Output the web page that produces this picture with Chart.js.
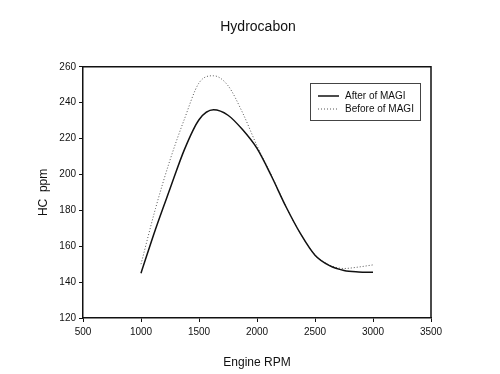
<!DOCTYPE html>
<html>
<head>
<meta charset="utf-8">
<script src="https://cdn.jsdelivr.net/npm/chart.js@4/dist/chart.umd.min.js"></script>
<style>
  html, body { margin: 0; padding: 0; background: #ffffff; }
  #wrap { width: 500px; height: 374px; position: relative; }
</style>
</head>
<body>
<div id="wrap"><canvas id="c" width="500" height="374"></canvas></div>
<script>
const chartTitle = "Hydrocabon";
const xTitle = "Engine RPM";
const yTitle = "HC  ppm";
const seriesNames = ["After of MAGI", "Before of MAGI"];
const rpm = [1000, 1125, 1250, 1375, 1500, 1625, 1750, 1875, 2000, 2125, 2250, 2375, 2500, 2625, 2750, 2875, 3000];
const afterMagi = [145, 169.5, 192, 214, 230.5, 236, 233, 225, 214.5, 199, 182, 167, 155, 149.2, 146.5, 145.7, 145.5];
const beforeMagi = [150, 181, 208, 231, 251, 255, 249.5, 234.5, 216, 199.5, 182, 167, 155.2, 149.5, 147.6, 148.4, 149.6];
const xTicks = [500, 1000, 1500, 2000, 2500, 3000, 3500];
const yTicks = [120, 140, 160, 180, 200, 220, 240, 260];

const FONT = "'Liberation Sans', Arial, sans-serif";

const framePlugin = {
  id: 'frame',
  afterDatasetsDraw(chart) {
    const {ctx, chartArea: a} = chart;
    ctx.save();
    ctx.strokeStyle = '#111';
    ctx.lineWidth = 1.5;
    ctx.beginPath();
    ctx.moveTo(a.left, a.top);
    ctx.lineTo(a.right, a.top);
    ctx.lineTo(a.right, a.bottom);
    ctx.stroke();

    // legend box inside the plot
    const bx = 310.5, by = 83.5, bw = 110, bh = 37;
    ctx.fillStyle = '#fff';
    ctx.fillRect(bx, by, bw, bh);
    ctx.strokeStyle = '#444';
    ctx.lineWidth = 1;
    ctx.strokeRect(bx, by, bw, bh);
    const rows = [96, 109];
    chart.data.datasets.forEach((ds, i) => {
      const y = rows[i];
      ctx.save();
      ctx.strokeStyle = ds.borderColor;
      ctx.lineWidth = ds.borderWidth;
      ctx.setLineDash(ds.borderDash || []);
      ctx.beginPath();
      ctx.moveTo(318, y);
      ctx.lineTo(339, y);
      ctx.stroke();
      ctx.restore();
      ctx.fillStyle = '#111';
      ctx.font = '10px ' + FONT;
      ctx.textBaseline = 'middle';
      ctx.textAlign = 'left';
      ctx.fillText(ds.label, 345, y);
    });
    ctx.restore();
  }
};

new Chart(document.getElementById('c'), {
  type: 'line',
  data: {
    datasets: [
      {
        label: seriesNames[0],
        data: rpm.map((x, i) => ({x: x, y: afterMagi[i]})),
        borderColor: '#111',
        borderWidth: 1.5,
        pointRadius: 0,
        cubicInterpolationMode: 'monotone',
        fill: false
      },
      {
        label: seriesNames[1],
        data: rpm.map((x, i) => ({x: x, y: beforeMagi[i]})),
        borderColor: '#555',
        borderWidth: 1,
        borderDash: [1, 2],
        pointRadius: 0,
        cubicInterpolationMode: 'monotone',
        fill: false
      }
    ]
  },
  options: {
    responsive: false,
    animation: false,
    devicePixelRatio: 1,
    layout: { padding: { left: 16, right: 0, top: 0, bottom: 0 } },
    plugins: {
      legend: { display: false },
      tooltip: { enabled: false },
      title: {
        display: true,
        text: chartTitle,
        color: '#111',
        font: { family: FONT, size: 14, weight: 'normal' },
        padding: { top: 19, bottom: 31 }
      }
    },
    scales: {
      x: {
        type: 'linear',
        min: 500, max: 3500,
        afterBuildTicks(scale) { scale.ticks = xTicks.map(v => ({value: v})); },
        afterFit(scale) { scale.height = 56; },
        ticks: {
          color: '#111',
          font: { family: FONT, size: 10 },
          padding: 4,
          maxRotation: 0,
          callback: (v) => String(v)
        },
        grid: {
          display: true,
          drawOnChartArea: false,
          drawTicks: true,
          tickLength: 4,
          color: '#111'
        },
        border: { display: true, color: '#111', width: 1.5 },
        title: {
          display: true,
          text: xTitle,
          color: '#111',
          font: { family: FONT, size: 12 },
          padding: { top: 0, bottom: 4 }
        }
      },
      y: {
        type: 'linear',
        min: 120, max: 260,
        afterBuildTicks(scale) { scale.ticks = yTicks.map(v => ({value: v})); },
        afterFit(scale) { scale.width = 67; },
        ticks: {
          color: '#111',
          font: { family: FONT, size: 10 },
          padding: 3,
          callback: (v) => String(v)
        },
        grid: {
          display: true,
          drawOnChartArea: false,
          drawTicks: true,
          tickLength: 4,
          color: '#111'
        },
        border: { display: true, color: '#111', width: 1.5 },
        title: {
          display: true,
          text: yTitle,
          color: '#111',
          font: { family: FONT, size: 12 },
          padding: { top: 20, bottom: 0 }
        }
      },
      y2: {
        type: 'linear',
        position: 'right',
        min: 120, max: 260,
        afterFit(scale) { scale.width = 69; },
        ticks: { display: false },
        grid: { display: false },
        border: { display: false },
        title: { display: false }
      }
    }
  },
  plugins: [framePlugin]
});
</script>
</body>
</html>
